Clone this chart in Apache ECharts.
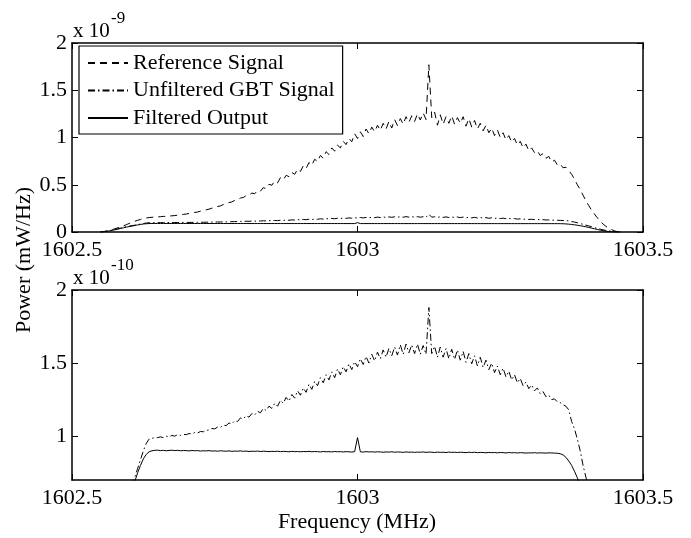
<!DOCTYPE html>
<html>
<head>
<meta charset="utf-8">
<script src="https://cdn.jsdelivr.net/npm/echarts@6/dist/echarts.min.js"></script>
<style>
html,body{margin:0;padding:0;background:#fff;}
#chart{width:691px;height:538px;}
</style>
</head>
<body>
<div id="chart"></div>
<script>
// Frequency samples (MHz)
const freq = [
1602.550,1602.555,1602.560,1602.565,1602.570,1602.575,1602.580,1602.585,1602.590,1602.595,
1602.600,1602.605,1602.610,1602.615,1602.620,1602.625,1602.630,1602.635,1602.640,1602.645,
1602.650,1602.655,1602.660,1602.665,1602.670,1602.675,1602.680,1602.685,1602.690,1602.695,
1602.700,1602.705,1602.710,1602.715,1602.720,1602.725,1602.730,1602.735,1602.740,1602.745,
1602.750,1602.755,1602.760,1602.765,1602.770,1602.775,1602.780,1602.785,1602.790,1602.795,
1602.800,1602.805,1602.810,1602.815,1602.820,1602.825,1602.830,1602.835,1602.840,1602.845,
1602.850,1602.855,1602.860,1602.865,1602.870,1602.875,1602.880,1602.885,1602.890,1602.895,
1602.900,1602.905,1602.910,1602.915,1602.920,1602.925,1602.930,1602.935,1602.940,1602.945,
1602.950,1602.955,1602.960,1602.965,1602.970,1602.975,1602.980,1602.985,1602.990,1602.995,
1603.000,1603.005,1603.010,1603.015,1603.020,1603.025,1603.030,1603.035,1603.040,1603.045,
1603.050,1603.055,1603.060,1603.065,1603.070,1603.075,1603.080,1603.085,1603.090,1603.095,
1603.100,1603.105,1603.110,1603.115,1603.120,1603.125,1603.130,1603.135,1603.140,1603.145,
1603.150,1603.155,1603.160,1603.165,1603.170,1603.175,1603.180,1603.185,1603.190,1603.195,
1603.200,1603.205,1603.210,1603.215,1603.220,1603.225,1603.230,1603.235,1603.240,1603.245,
1603.250,1603.255,1603.260,1603.265,1603.270,1603.275,1603.280,1603.285,1603.290,1603.295,
1603.300,1603.305,1603.310,1603.315,1603.320,1603.325,1603.330,1603.335,1603.340,1603.345,
1603.350,1603.355,1603.360,1603.365,1603.370,1603.375,1603.380,1603.385,1603.390,1603.395,
1603.400,1603.405,1603.410,1603.415,1603.420,1603.425,1603.430,1603.435,1603.440,1603.445,
1603.450,1603.455,1603.460
];

// Reference Signal, units of 1e-9 mW/Hz
const referenceSignal = [
0.000,0.004,0.010,0.017,0.025,0.034,0.044,0.054,0.065,0.077,
0.090,0.102,0.114,0.124,0.133,0.141,0.148,0.153,0.156,0.158,
0.160,0.162,0.165,0.166,0.169,0.171,0.174,0.178,0.181,0.186,
0.190,0.196,0.200,0.207,0.212,0.220,0.226,0.235,0.242,0.252,
0.258,0.270,0.276,0.290,0.296,0.312,0.318,0.335,0.340,0.360,
0.365,0.385,0.390,0.412,0.405,0.440,0.432,0.470,0.458,0.505,
0.495,0.540,0.520,0.575,0.552,0.600,0.585,0.630,0.610,0.665,
0.640,0.700,0.672,0.735,0.705,0.770,0.745,0.810,0.780,0.850,
0.820,0.890,0.855,0.920,0.890,0.960,0.925,0.990,0.955,1.040,
0.990,1.060,1.010,1.090,1.040,1.110,1.060,1.130,1.075,1.150,
1.090,1.170,1.100,1.190,1.125,1.200,1.140,1.220,1.160,1.230,
1.170,1.250,1.185,1.260,1.190,1.770,1.210,1.270,1.130,1.240,
1.140,1.220,1.150,1.230,1.140,1.210,1.150,1.220,1.120,1.200,
1.110,1.180,1.090,1.150,1.070,1.130,1.050,1.100,1.020,1.080,
1.000,1.050,0.975,1.020,0.950,0.990,0.920,0.960,0.890,0.930,
0.860,0.890,0.840,0.860,0.810,0.830,0.780,0.800,0.740,0.760,
0.710,0.720,0.680,0.685,0.650,0.610,0.560,0.500,0.450,0.390,
0.330,0.280,0.230,0.190,0.150,0.115,0.085,0.060,0.040,0.025,
0.012,0.004,0.000
];

// Unfiltered GBT Signal, units of 1e-10 mW/Hz
const unfilteredGBT = [
0.00,0.03,0.08,0.14,0.20,0.27,0.34,0.42,0.50,0.56,
0.62,0.67,0.72,0.78,0.84,0.90,0.95,0.98,0.985,0.99,
0.99,0.995,0.99,1.000,0.995,1.005,1.000,1.010,1.005,1.012,
1.010,1.018,1.015,1.025,1.022,1.032,1.030,1.040,1.042,1.052,
1.050,1.062,1.060,1.075,1.072,1.090,1.085,1.105,1.100,1.125,
1.118,1.140,1.130,1.155,1.145,1.170,1.160,1.190,1.175,1.205,
1.190,1.225,1.205,1.245,1.225,1.265,1.240,1.285,1.260,1.310,
1.280,1.330,1.300,1.355,1.320,1.375,1.345,1.400,1.365,1.420,
1.385,1.440,1.400,1.460,1.420,1.475,1.440,1.495,1.455,1.510,
1.475,1.530,1.490,1.545,1.500,1.560,1.515,1.575,1.530,1.590,
1.540,1.600,1.550,1.610,1.555,1.625,1.560,1.630,1.570,1.625,
1.565,1.630,1.560,1.620,1.560,1.880,1.565,1.615,1.540,1.610,
1.540,1.600,1.530,1.595,1.525,1.590,1.520,1.580,1.505,1.565,
1.495,1.550,1.480,1.540,1.470,1.520,1.455,1.500,1.435,1.480,
1.420,1.465,1.405,1.445,1.385,1.420,1.365,1.395,1.345,1.370,
1.325,1.350,1.310,1.330,1.290,1.305,1.270,1.280,1.250,1.255,
1.235,1.230,1.215,1.205,1.180,1.100,1.050,0.980,0.900,0.800,
0.72,0.64,0.55,0.46,0.38,0.30,0.23,0.17,0.12,0.08,
0.04,0.015,0.00
];

// Filtered Output, units of 1e-10 mW/Hz
const filteredOutput = [
0.00,0.02,0.06,0.11,0.17,0.23,0.30,0.37,0.44,0.51,
0.57,0.63,0.69,0.75,0.80,0.845,0.875,0.893,0.900,0.903,
0.904,0.901,0.903,0.900,0.902,0.904,0.901,0.903,0.900,0.902,
0.901,0.899,0.902,0.900,0.901,0.898,0.900,0.899,0.901,0.898,
0.899,0.897,0.900,0.898,0.897,0.899,0.896,0.898,0.897,0.899,
0.896,0.898,0.895,0.897,0.896,0.898,0.895,0.897,0.896,0.894,
0.896,0.895,0.897,0.894,0.896,0.895,0.893,0.896,0.894,0.895,
0.893,0.895,0.894,0.896,0.893,0.895,0.894,0.892,0.895,0.893,
0.894,0.892,0.895,0.893,0.894,0.892,0.894,0.893,0.891,0.894,
0.990,0.893,0.891,0.894,0.892,0.893,0.891,0.893,0.892,0.890,
0.892,0.891,0.893,0.890,0.892,0.891,0.889,0.892,0.890,0.891,
0.889,0.891,0.890,0.892,0.889,0.891,0.890,0.888,0.891,0.889,
0.890,0.888,0.891,0.889,0.890,0.888,0.890,0.889,0.887,0.890,
0.888,0.890,0.887,0.889,0.888,0.886,0.889,0.887,0.888,0.886,
0.888,0.887,0.885,0.888,0.886,0.887,0.885,0.887,0.886,0.884,
0.886,0.885,0.887,0.884,0.886,0.885,0.884,0.886,0.885,0.884,
0.883,0.880,0.872,0.855,0.830,0.800,0.760,0.715,0.665,0.610,
0.55,0.48,0.41,0.34,0.27,0.20,0.14,0.09,0.05,0.02,
0.005,0.00,0.00
];

const seriesNames = ['Reference Signal', 'Unfiltered GBT Signal', 'Filtered Output'];
const xTicks = [1602.5, 1603, 1603.5];
const topYTicks = [0, 0.5, 1, 1.5, 2];
const bottomYTicks = [1, 1.5, 2];

const FONT = 'Liberation Serif';
const BLACK = '#000';
const dashRef = [7, 5];
const dashDot = [7, 3, 1.5, 3];

function pairs(vals, scale) {
  return freq.map((f, i) => [f, vals[i] * scale]);
}

const frame = { show: true, onZero: false, lineStyle: { color: BLACK, width: 1.5 } };
const tick = { show: true, inside: true, length: 6, lineStyle: { color: BLACK, width: 1 } };
const label = { color: BLACK, fontFamily: FONT, fontSize: 22 };

function xAxes(grid) {
  return [
    { type: 'value', gridIndex: grid, position: 'bottom', min: xTicks[0], max: xTicks[2], interval: 0.5,
      axisLine: frame, axisTick: tick, splitLine: { show: false },
      axisLabel: Object.assign({ margin: 7, formatter: v => String(v) }, label) },
    { type: 'value', gridIndex: grid, position: 'top', min: xTicks[0], max: xTicks[2], interval: 0.5,
      axisLine: frame, axisTick: tick, splitLine: { show: false }, axisLabel: { show: false } }
  ];
}

const option = {
  animation: false,
  backgroundColor: '#fff',
  grid: [
    { left: 72, top: 43, width: 571, height: 189 },
    { left: 72, top: 290, width: 571, height: 190 }
  ],
  xAxis: [].concat(xAxes(0), xAxes(1)),
  yAxis: [
    { type: 'value', gridIndex: 0, position: 'left', min: topYTicks[0], max: topYTicks[4], interval: 0.5,
      axisLine: frame, axisTick: tick, splitLine: { show: false },
      axisLabel: Object.assign({ margin: 5, formatter: v => String(v) }, label) },
    { type: 'value', gridIndex: 0, position: 'right', min: topYTicks[0], max: topYTicks[4], interval: 0.5,
      axisLine: frame, axisTick: tick, splitLine: { show: false }, axisLabel: { show: false } },
    { type: 'value', gridIndex: 1, position: 'left', min: 0.7, max: 2,
      axisLine: frame, axisTick: Object.assign({ customValues: bottomYTicks }, tick), splitLine: { show: false },
      axisLabel: Object.assign({ margin: 5, customValues: bottomYTicks, formatter: v => String(v) }, label) },
    { type: 'value', gridIndex: 1, position: 'right', min: 0.7, max: 2,
      axisLine: frame, axisTick: Object.assign({ customValues: bottomYTicks }, tick), splitLine: { show: false },
      axisLabel: { show: false } }
  ],
  legend: {
    data: seriesNames,
    orient: 'vertical',
    left: 79, top: 46,
    padding: [6, 8, 5, 8],
    itemWidth: 40, itemHeight: 14, itemGap: 5.5,
    backgroundColor: '#fff',
    borderColor: BLACK, borderWidth: 1.2, borderRadius: 0,
    itemStyle: { opacity: 0, color: 'transparent', borderWidth: 0 },
    textStyle: { color: BLACK, fontFamily: FONT, fontSize: 22, padding: [0, 0, 0, 0] },
    selectedMode: false,
    z: 10
  },
  series: [
    { name: seriesNames[0], type: 'line', xAxisIndex: 0, yAxisIndex: 0, symbol: 'none',
      data: pairs(referenceSignal, 1), lineStyle: { color: BLACK, width: 1, type: dashRef }, itemStyle: { color: BLACK } },
    { name: seriesNames[1], type: 'line', xAxisIndex: 0, yAxisIndex: 0, symbol: 'none',
      data: pairs(unfilteredGBT, 0.1), lineStyle: { color: BLACK, width: 1, type: dashDot }, itemStyle: { color: BLACK } },
    { name: seriesNames[2], type: 'line', xAxisIndex: 0, yAxisIndex: 0, symbol: 'none',
      data: pairs(filteredOutput, 0.1), lineStyle: { color: BLACK, width: 1, type: 'solid' }, itemStyle: { color: BLACK } },
    { name: seriesNames[1], type: 'line', xAxisIndex: 2, yAxisIndex: 2, symbol: 'none',
      data: pairs(unfilteredGBT, 1), lineStyle: { color: BLACK, width: 1, type: dashDot }, itemStyle: { color: BLACK } },
    { name: seriesNames[2], type: 'line', xAxisIndex: 2, yAxisIndex: 2, symbol: 'none',
      data: pairs(filteredOutput, 1), lineStyle: { color: BLACK, width: 1, type: 'solid' }, itemStyle: { color: BLACK } }
  ],
  graphic: [
    { type: 'text', left: 73, top: 21, style: { text: 'x 10', fill: BLACK, font: '21px "Liberation Serif"' } },
    { type: 'text', left: 111, top: 10, style: { text: '-9', fill: BLACK, font: '17px "Liberation Serif"' } },
    { type: 'text', left: 73, top: 268, style: { text: 'x 10', fill: BLACK, font: '21px "Liberation Serif"' } },
    { type: 'text', left: 111, top: 257, style: { text: '-10', fill: BLACK, font: '17px "Liberation Serif"' } },
    { type: 'text', x: 24, y: 260, rotation: Math.PI / 2,
      style: { text: 'Power (mW/Hz)', fill: BLACK, font: '22px "Liberation Serif"', align: 'center', verticalAlign: 'middle' } },
    { type: 'text', x: 357, y: 522,
      style: { text: 'Frequency (MHz)', fill: BLACK, font: '22px "Liberation Serif"', align: 'center', verticalAlign: 'middle' } }
  ]
};

const chart = echarts.init(document.getElementById('chart'), null, { renderer: 'canvas' });
chart.setOption(option);
</script>
</body>
</html>
